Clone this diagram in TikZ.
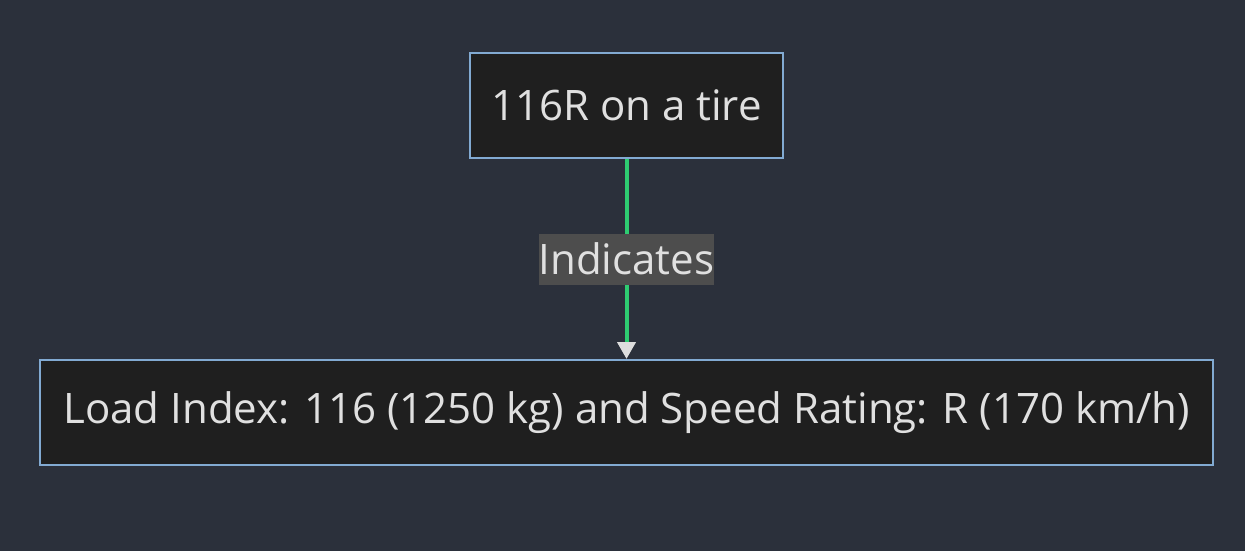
\documentclass[tikz,border=0pt]{standalone}
\usepackage{fontspec}
\setmainfont{Open Sans}
\usepackage{xcolor}
\definecolor{pageBg}{HTML}{2B303B}
\definecolor{boxFill}{HTML}{1F1F1F}
\definecolor{boxLine}{HTML}{82AAD2}
\definecolor{textLight}{HTML}{E0E0E0}
\definecolor{linkGreen}{HTML}{2ECC71}
\definecolor{labelBg}{HTML}{4D4D4D}
\definecolor{tipGray}{HTML}{DDDDDD}
\usetikzlibrary{positioning,arrows.meta,calc}
\tikzset{%
  tireBox/.style={%
    rectangle,
    draw=boxLine,
    line width=2pt,
    fill=boxFill,
    text=textLight,
    minimum height=105pt,
    inner sep=0pt,
    font=\fontsize{42}{50}\selectfont
  },
  linkLine/.style={%
    -{Triangle[length=17pt,width=18pt,color=tipGray]},
    draw=linkGreen,
    line width=4pt
  },
  linkLabel/.style={%
    fill=labelBg,
    text=textLight,
    minimum width=175pt,
    minimum height=51pt,
    inner sep=0pt,
    font=\fontsize{42}{50}\selectfont
  }
}

\begin{document}
\begin{tikzpicture}[x=1pt,y=-1pt]
  \fill[pageBg] (0,0) rectangle (1245,551);
  \useasboundingbox (0,0) rectangle (1245,551);

  \node[tireBox, minimum width=313pt] (code) at (626.5,105.5) {116R on a tire};
  \node[tireBox, minimum width=1173pt, below=200pt of code] (meaning)
    {Load Index: 116 (1250 kg) and Speed Rating: R (170 km/h)};

  \draw[linkLine] (code) -- (meaning);
  \node[linkLabel] (indicates) at ($(code)!0.5!(meaning)$) {Indicates};
\end{tikzpicture}
\end{document}
